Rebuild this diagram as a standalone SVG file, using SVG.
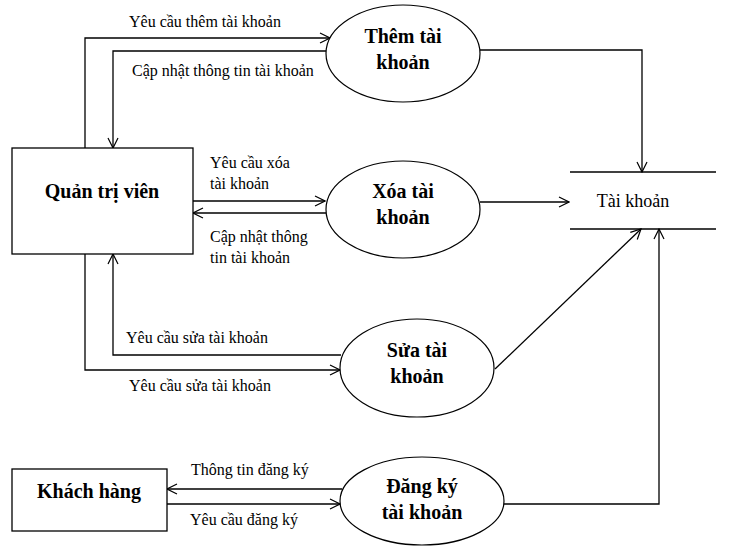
<svg xmlns="http://www.w3.org/2000/svg" width="739" height="554" viewBox="0 0 739 554" font-family="'Liberation Serif', 'Times New Roman', serif">
<style>
.box{fill:#fff;stroke:#000;stroke-width:1.3}
.proc{fill:#fff;stroke:#000;stroke-width:1.2}
.ln{fill:none;stroke:#000;stroke-width:1.3}
.lbl{font-size:16px;fill:#000}
.bt{font-size:20px;font-weight:bold;fill:#000;text-anchor:middle}
.st{font-size:18px;fill:#000;text-anchor:middle}
</style>
<defs>
<marker id="arr" viewBox="0 0 12 12" refX="11" refY="6" markerWidth="12" markerHeight="12" markerUnits="userSpaceOnUse" orient="auto">
<path d="M1,1 L11,6 L1,11" fill="none" stroke="#000" stroke-width="1.2"/>
</marker>
</defs>
<rect width="739" height="554" fill="#fff"/>

<g id="connectors" font-family="'Liberation Serif', 'Times New Roman', serif">
<path class="ln" d="M85,148 V38 H330" marker-end="url(#arr)"/>
<path class="ln" d="M326,51 H113 V148" marker-end="url(#arr)"/>
<path class="ln" d="M193,201 H325" marker-end="url(#arr)"/>
<path class="ln" d="M326,213 H193" marker-end="url(#arr)"/>
<path class="ln" d="M341,355 H113 V254" marker-end="url(#arr)"/>
<path class="ln" d="M85,254 V370 H340" marker-end="url(#arr)"/>
<path class="ln" d="M342,489 H167" marker-end="url(#arr)"/>
<path class="ln" d="M167,504 H340" marker-end="url(#arr)"/>
<path class="ln" d="M480,50 H642 V172" marker-end="url(#arr)"/>
<path class="ln" d="M480,202 H569" marker-end="url(#arr)"/>
<path class="ln" d="M495,369 L641,229" marker-end="url(#arr)"/>
<path class="ln" d="M504,504 H659 V229" marker-end="url(#arr)"/>
<text class="lbl" x="129" y="27">Yêu cầu thêm tài khoản</text>
<text class="lbl" x="132" y="76">Cập nhật thông tin tài khoản</text>
<text class="lbl" x="210" y="168">Yêu cầu xóa</text>
<text class="lbl" x="210" y="189">tài khoản</text>
<text class="lbl" x="210" y="242">Cập nhật thông</text>
<text class="lbl" x="210" y="263">tin tài khoản</text>
<text class="lbl" x="126" y="343">Yêu cầu sửa tài khoản</text>
<text class="lbl" x="129" y="391">Yêu cầu sửa tài khoản</text>
<text class="lbl" x="191" y="475">Thông tin đăng ký</text>
<text class="lbl" x="190" y="525">Yêu cầu đăng ký</text>
</g>

<g id="quan-tri-vien" font-family="'Liberation Serif', 'Times New Roman', serif">
<rect class="box" x="12" y="148" width="181" height="106"/>
<text class="bt" x="102" y="198">Quản trị viên</text>
</g>

<g id="khach-hang" font-family="'Liberation Serif', 'Times New Roman', serif">
<rect class="box" x="12" y="469" width="155" height="62"/>
<text class="bt" x="89" y="498">Khách hàng</text>
</g>

<g id="them-tai-khoan" font-family="'Liberation Serif', 'Times New Roman', serif">
<ellipse class="proc" cx="403" cy="53.5" rx="77" ry="48.5"/>
<text class="bt" x="403" y="43">Thêm tài</text>
<text class="bt" x="403" y="69">khoản</text>
</g>

<g id="xoa-tai-khoan" font-family="'Liberation Serif', 'Times New Roman', serif">
<ellipse class="proc" cx="403" cy="209.5" rx="77" ry="48.5"/>
<text class="bt" x="403" y="198">Xóa tài</text>
<text class="bt" x="403" y="224">khoản</text>
</g>

<g id="sua-tai-khoan" font-family="'Liberation Serif', 'Times New Roman', serif">
<ellipse class="proc" cx="417" cy="368" rx="77" ry="49"/>
<text class="bt" x="417" y="357">Sửa tài</text>
<text class="bt" x="417" y="383">khoản</text>
</g>

<g id="dang-ky-tai-khoan" font-family="'Liberation Serif', 'Times New Roman', serif">
<ellipse class="proc" cx="422" cy="501" rx="82" ry="44"/>
<text class="bt" x="422" y="493">Đăng ký</text>
<text class="bt" x="422" y="519">tài khoản</text>
</g>

<g id="tai-khoan-store" font-family="'Liberation Serif', 'Times New Roman', serif">
<line class="ln" x1="570" y1="172" x2="716" y2="172"/>
<line class="ln" x1="570" y1="229" x2="716" y2="229"/>
<text class="st" x="633" y="207">Tài khoản</text>
</g>
</svg>
